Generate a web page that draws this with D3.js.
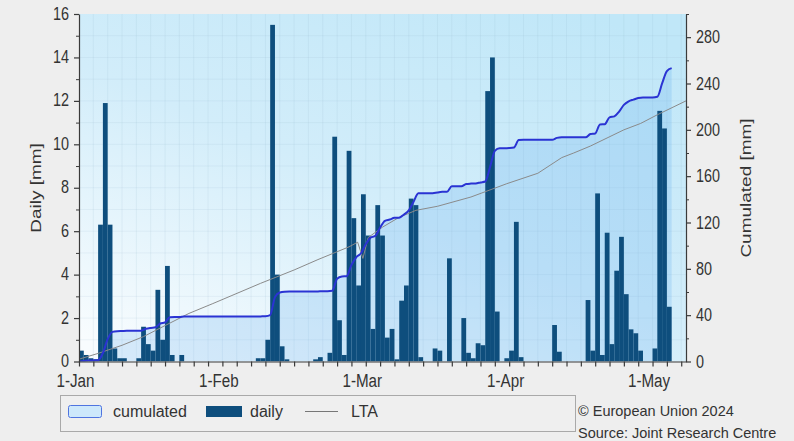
<!DOCTYPE html>
<html><head><meta charset="utf-8">
<script src="https://cdn.jsdelivr.net/npm/d3@7"></script>
<style>
html,body{margin:0;padding:0;background:#eeeeee;}
svg{display:block;font-family:"Liberation Sans", Arial, sans-serif;}
</style></head><body>
<svg id="chart" width="794" height="441"></svg>
<script>
// day index 0 = 1 Jan 2024
const daily = [
 0.5,0.3,0.15,0.1,6.3,11.9,6.3,0.6,0.15,0.15,
 0,0,0.15,1.6,0.8,0.5,3.3,1.0,4.4,0.3,
 0,0.3,0,0,0,0,0,0,0,0,
 0,0,0,0,0,0,0,0.15,0.15,1.0,
 15.5,4.0,0.7,0.1,0,0,0,0,0,0.1,
 0.2,0,0.4,10.35,1.9,0.3,9.7,6.6,3.5,7.7,
 5.8,1.5,7.2,5.8,1.1,1.5,0.1,2.8,3.5,7.5,
 7.2,0.2,0,0,0.6,0.5,0,4.75,0,0,
 2.0,0.4,0.15,0.84,0.75,12.45,14.0,2.3,0,0.15,
 0.5,6.43,0.2,0,0,0,0,0,0,1.68,
 0.45,0,0,0,0,0,2.83,0.5,7.74,0.3,
 5.93,0.8,4.18,5.74,3.1,1.48,1.3,0.5,0,0,
 0.6,11.54,10.73,2.52
];
const cumulated = [
 0.5,0.8,0.95,1.05,7.35,19.25,25.55,26.15,26.3,26.45,
 26.45,26.45,26.6,28.2,29.0,29.5,32.8,33.8,38.2,38.5,
 38.5,38.8,38.8,38.8,38.8,38.8,38.8,38.8,38.8,38.8,
 38.8,38.8,38.8,38.8,38.8,38.8,38.8,38.95,39.1,40.1,
 55.6,59.6,60.3,60.4,60.4,60.4,60.4,60.4,60.4,60.5,
 60.7,60.7,61.1,71.45,73.35,73.65,83.35,89.95,93.45,101.15,
 106.95,108.45,115.65,121.45,122.55,124.05,124.15,126.95,130.45,137.95,
 145.15,145.35,145.35,145.35,145.95,146.45,146.45,151.2,151.2,151.2,
 153.2,153.6,153.75,154.59,155.34,167.79,181.79,184.09,184.09,184.24,
 184.74,191.17,191.37,191.37,191.37,191.37,191.37,191.37,191.37,193.05,
 193.5,193.5,193.5,193.5,193.5,193.5,196.33,196.83,204.57,204.87,
 210.8,211.6,215.78,221.52,224.62,226.1,227.4,227.9,227.9,227.9,
 228.5,240.04,250.77,253.29
];
const ltaDays   = [0, 4, 9, 13.5, 18, 23, 28, 32, 38, 45, 50, 56.5, 58.3, 59.4, 60.5, 63.5, 67, 70.5, 75, 82, 89.5, 96, 101, 103.5, 107, 114, 117.5, 121, 127];
const ltaValues = [2, 7, 14, 21.5, 31, 41.5, 50, 57, 67.5, 79, 88, 99, 103, 89, 107, 116, 124.5, 130.5, 134, 142, 153.5, 162.5, 176, 180, 186, 200, 205.5, 213, 225];
const xTickLabels = ["1-Jan","1-Feb","1-Mar","1-Apr","1-May"];
const xLabelDays  = [0, 30, 60, 90, 120];
const leftTicks  = [0,2,4,6,8,10,12,14,16];
const rightTicks = [0,40,80,120,160,200,240,280];

const P = {left:79, right:686, top:14, bottom:361.5};
const SX = 0.8; // horizontal squeeze of the lettering
const svg = d3.select("#chart");
const x  = d3.scaleLinear().domain([0,127]).range([P.left, P.right]);
const yL = d3.scaleLinear().domain([0,16]).range([P.bottom, P.top]);
const yR = d3.scaleLinear().domain([0,300]).range([P.bottom, P.top]);

const defs = svg.append("defs");
const g1 = defs.append("linearGradient").attr("id","bg")
  .attr("x1","0.85").attr("y1","0").attr("x2","0.1").attr("y2","1");
g1.append("stop").attr("offset","0").attr("stop-color","#c0e7f8");
g1.append("stop").attr("offset","0.5").attr("stop-color","#d2edfa");
g1.append("stop").attr("offset","1").attr("stop-color","#f8fcfe");
defs.append("clipPath").attr("id","clip").append("rect")
  .attr("x",P.left).attr("y",P.top).attr("width",P.right-P.left).attr("height",P.bottom-P.top);

svg.append("rect").attr("x",P.left).attr("y",P.top)
  .attr("width",P.right-P.left).attr("height",P.bottom-P.top).attr("fill","url(#bg)");

const plot = svg.append("g").attr("clip-path","url(#clip)");

// grid
const gridDays = d3.range(0,127,3);
plot.append("g").selectAll("line").data(gridDays).join("line")
  .attr("x1",d=>x(d)).attr("x2",d=>x(d)).attr("y1",P.top).attr("y2",P.bottom)
  .attr("stroke","#8fb0c4").attr("stroke-opacity",0.14).attr("stroke-width",1);
plot.append("g").selectAll("line").data(d3.range(1,16,1)).join("line")
  .attr("x1",P.left).attr("x2",P.right).attr("y1",d=>yL(d)).attr("y2",d=>yL(d))
  .attr("stroke","#8fb0c4").attr("stroke-opacity",0.12).attr("stroke-width",1);

const cumPts = [{d:0,v:0}].concat(cumulated.map((v,i)=>({d:i+1,v})));
plot.append("path").datum(cumPts)
  .attr("d", d3.area().x(p=>x(p.d)).y0(yR(0)).y1(p=>yR(p.v)).curve(d3.curveMonotoneX))
  .attr("fill","rgb(90,170,235)").attr("fill-opacity",0.22);

plot.append("g").selectAll("rect").data(daily).join("rect")
  .attr("x",(v,i)=>x(i)).attr("width",(v,i)=>x(i+1)-x(i))
  .attr("y",v=>yL(v)).attr("height",v=>yL(0)-yL(v))
  .attr("fill","#0e4e7d");

const ltaPts = ltaDays.map((d,i)=>({d, v:ltaValues[i]}));
plot.append("path").datum(ltaPts)
  .attr("d", d3.line().x(p=>x(p.d)).y(p=>yR(p.v)))
  .attr("fill","none").attr("stroke","#8a8a8a").attr("stroke-width",1);

plot.append("path").datum(cumPts)
  .attr("d", d3.line().x(p=>x(p.d)).y(p=>yR(p.v)).curve(d3.curveMonotoneX))
  .attr("fill","none").attr("stroke","#2a33d3").attr("stroke-width",2);

// axes
const axCol = "#3a3a3a";
function styleAxis(g){
  g.select(".domain").attr("stroke",axCol).attr("stroke-width",1.2);
  g.selectAll(".tick line").attr("stroke",axCol).attr("stroke-width",1.2);
  g.selectAll(".tick text").attr("fill","#333").attr("font-size",18);
}
const gl = svg.append("g").attr("transform",`translate(${P.left},0)`)
  .call(d3.axisLeft(yL).tickValues(leftTicks).tickSize(5).tickSizeOuter(0).tickPadding(4));
styleAxis(gl);
gl.selectAll(".tick text").attr("x",-10/SX).attr("dy","0.28em").attr("transform",`scale(${SX},1)`);
svg.append("g").attr("transform",`translate(${P.left},0)`)
  .call(d3.axisLeft(yL).tickValues(d3.range(1,16,2)).tickSize(3).tickFormat(""))
  .call(g=>{g.select(".domain").remove();g.selectAll("line").attr("stroke",axCol);});

const gr = svg.append("g").attr("transform",`translate(${P.right},0)`)
  .call(d3.axisRight(yR).tickValues(rightTicks).tickSize(5).tickSizeOuter(0));
styleAxis(gr);
gr.selectAll(".tick text").attr("x",10/SX).attr("transform",`scale(${SX},1)`);
svg.append("g").attr("transform",`translate(${P.right},0)`)
  .call(d3.axisRight(yR).tickValues(d3.range(20,301,40)).tickSize(3).tickFormat(""))
  .call(g=>{g.select(".domain").remove();g.selectAll("line").attr("stroke",axCol);});

const gb = svg.append("g").attr("transform",`translate(0,${P.bottom})`)
  .call(d3.axisBottom(x).tickValues(gridDays).tickSize(5).tickSizeOuter(0).tickFormat(""));
styleAxis(gb);
const gbl = svg.append("g").attr("transform",`translate(0,${P.bottom})`)
  .call(d3.axisBottom(x).tickValues(xLabelDays).tickSize(0).tickFormat((d,i)=>xTickLabels[i]));
gbl.select(".domain").remove();
gbl.selectAll(".tick text").attr("fill","#333").attr("font-size",19)
  .attr("y",12).attr("dy","0.71em").attr("x",-4/SX).attr("transform",`scale(${SX},1)`);

// axis titles
svg.append("text").attr("transform",`translate(36,188) scale(${SX},1) rotate(-90)`)
  .attr("text-anchor","middle").attr("dy","0.35em").attr("font-size",19).attr("fill","#333")
  .text("Daily [mm]");
svg.append("text").attr("transform",`translate(746,188) scale(${SX},1) rotate(-90)`)
  .attr("text-anchor","middle").attr("dy","0.35em").attr("font-size",19).attr("fill","#333")
  .text("Cumulated [mm]");

// legend
const lg = svg.append("g");
lg.append("rect").attr("x",60.5).attr("y",395.5).attr("width",515).attr("height",36)
  .attr("fill","#efefef").attr("stroke","#a9a9a9");
lg.append("rect").attr("x",68.5).attr("y",405.5).attr("width",33).attr("height",12).attr("rx",2)
  .attr("fill","#cde8fb").attr("stroke","#4f74e0");
lg.append("text").attr("x",113).attr("y",417).attr("font-size",16).attr("fill","#333").text("cumulated");
lg.append("rect").attr("x",206).attr("y",406).attr("width",36).attr("height",11).attr("fill","#0e4e7d");
lg.append("text").attr("x",250).attr("y",417).attr("font-size",16).attr("fill","#333").text("daily");
lg.append("line").attr("x1",305).attr("x2",338).attr("y1",411.5).attr("y2",411.5).attr("stroke","#777");
lg.append("text").attr("x",351).attr("y",417).attr("font-size",16).attr("fill","#333").text("LTA");

svg.append("text").attr("x",578).attr("y",416).attr("font-size",14.5).attr("fill","#333").text("© European Union 2024");
svg.append("text").attr("x",578).attr("y",438).attr("font-size",14.5).attr("fill","#333").text("Source: Joint Research Centre");
</script>
</body></html>
